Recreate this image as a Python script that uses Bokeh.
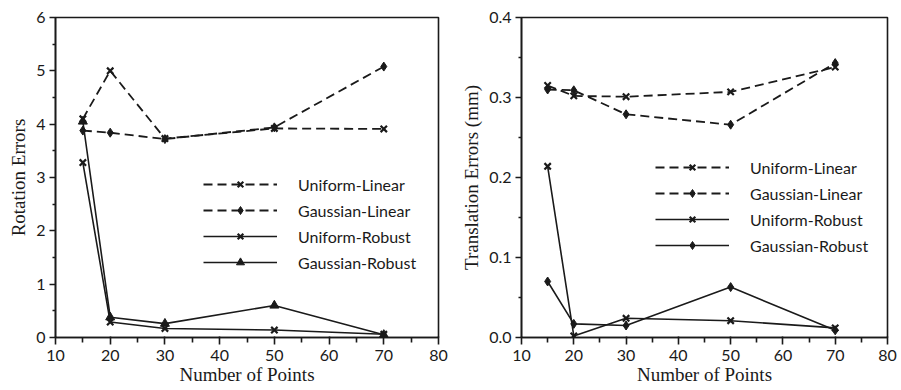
from bokeh.plotting import figure
from bokeh.layouts import row
from bokeh.models import Range1d, Legend, LegendItem, FixedTicker, CustomJSTickFormatter
from bokeh.embed import file_html
from bokeh.resources import INLINE

n_points = [15, 20, 30, 50, 70]

rot_uniform_linear = [4.1, 5.0, 3.73, 3.92, 3.91]
rot_gaussian_linear = [3.88, 3.84, 3.72, 3.94, 5.08]
rot_uniform_robust = [3.28, 0.29, 0.17, 0.14, 0.06]
rot_gaussian_robust = [4.05, 0.38, 0.26, 0.60, 0.05]

trans_uniform_linear = [0.315, 0.302, 0.301, 0.307, 0.338]
trans_gaussian_linear = [0.310, 0.309, 0.279, 0.266, 0.343]
trans_uniform_robust = [0.214, 0.002, 0.024, 0.021, 0.012]
trans_gaussian_robust = [0.070, 0.017, 0.015, 0.063, 0.009]

series_names = ["Uniform-Linear", "Gaussian-Linear", "Uniform-Robust", "Gaussian-Robust"]
x_ticks = [10, 20, 30, 40, 50, 60, 70, 80]
x_minor = [15, 25, 35, 45, 55, 65, 75]
rot_ticks = [0, 1, 2, 3, 4, 5, 6]
rot_minor = [0.5, 1.5, 2.5, 3.5, 4.5, 5.5]
trans_ticks = [0.0, 0.1, 0.2, 0.3, 0.4]
trans_minor = [0.05, 0.15, 0.25, 0.35]

INK = "#1a1a1a"
SERIF = "Liberation Serif"
SANS = "Lato"


def make_fig(ys, markers, y_max, y_ticks, y_minor, y_label, one_decimal,
             border_left, border_right, width, legend_loc):
    p = figure(frame_width=width, frame_height=320, output_backend="svg", toolbar_location=None,
               x_range=Range1d(10, 80), y_range=Range1d(0, y_max),
               min_border_left=border_left, min_border_right=border_right,
               min_border_top=17, min_border_bottom=50)
    p.xgrid.visible = False
    p.ygrid.visible = False
    p.outline_line_color = INK
    p.outline_line_width = 1.6
    p.background_fill_color = "white"
    p.border_fill_color = "white"

    p.xaxis.ticker = FixedTicker(ticks=x_ticks, minor_ticks=x_minor)
    p.yaxis.ticker = FixedTicker(ticks=y_ticks, minor_ticks=y_minor)
    if one_decimal:
        p.yaxis.formatter = CustomJSTickFormatter(code="return tick.toFixed(1);")
    for ax in (p.xaxis[0], p.yaxis[0]):
        ax.axis_line_color = INK
        ax.axis_line_width = 1.6
        ax.major_tick_line_color = INK
        ax.major_tick_line_width = 1.6
        ax.minor_tick_line_color = INK
        ax.minor_tick_line_width = 1.6
        ax.major_label_text_font = SANS
        ax.major_label_text_font_size = "16px"
        ax.major_label_text_color = INK
        ax.axis_label_text_font = SERIF
        ax.axis_label_text_font_size = "19px"
        ax.axis_label_text_font_style = "normal"
        ax.axis_label_text_color = INK
    p.xaxis.major_tick_in = 1
    p.xaxis.major_tick_out = 7
    p.xaxis.minor_tick_in = 0
    p.xaxis.minor_tick_out = 5
    p.yaxis.major_tick_in = 0
    p.yaxis.major_tick_out = 6
    p.yaxis.minor_tick_in = 0
    p.yaxis.minor_tick_out = 3
    p.xaxis.axis_label = "Number of Points"
    p.xaxis.axis_label_standoff = 0
    p.xaxis.major_label_standoff = 5
    p.yaxis.axis_label = y_label
    p.yaxis.axis_label_standoff = 4
    p.yaxis.major_label_standoff = 4

    dashes = ["9 5", "9 5", "solid", "solid"]
    widths = [1.8, 1.8, 1.6, 1.6]
    items = []
    for name, y, m, d, w in zip(series_names, ys, markers, dashes, widths):
        r1 = p.line(n_points, y, line_color=INK, line_width=w, line_dash=d)
        if m == "x":
            r2 = p.scatter(n_points, y, marker="x", size=9, line_color=INK, line_width=2.2)
        else:
            r2 = p.scatter(n_points, y, marker=m, size=9, line_color=INK, fill_color=INK, line_width=1)
        items.append(LegendItem(label=name, renderers=[r1, r2]))

    legend = Legend(items=items, location=legend_loc, border_line_color=None,
                    background_fill_alpha=0, glyph_width=74, glyph_height=20, label_height=20,
                    label_text_font=SANS, label_text_font_size="16px", label_text_color=INK,
                    label_standoff=21, spacing=6, padding=0, margin=0)
    p.add_layout(legend, "center")
    return p


left = make_fig([rot_uniform_linear, rot_gaussian_linear, rot_uniform_robust, rot_gaussian_robust],
                ["x", "diamond", "x", "triangle"], 6, rot_ticks, rot_minor,
                "Rotation Errors", False, 55, 20, 383, (148, 65))
right = make_fig([trans_uniform_linear, trans_gaussian_linear, trans_uniform_robust, trans_gaussian_robust],
                 ["x", "diamond", "x", "diamond"], 0.4, trans_ticks, trans_minor,
                 "Translation Errors (mm)", True, 57, 14, 366, (134, 82))

layout = row(left, right, spacing=0)
open("out.html", "w").write(file_html(layout, INLINE))
